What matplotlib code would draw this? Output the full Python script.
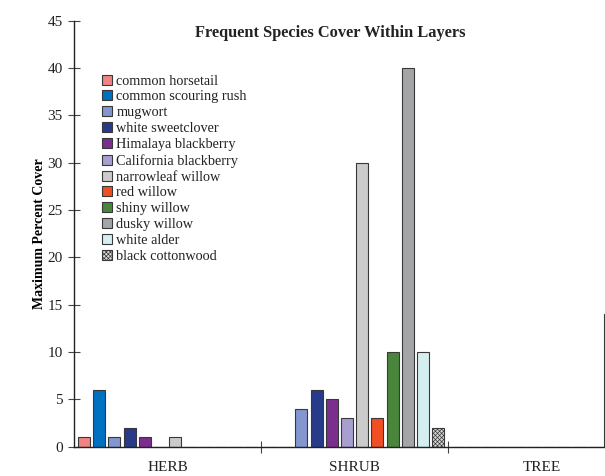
import matplotlib
matplotlib.use("Agg")
import matplotlib.pyplot as plt
import numpy as np

layers = ["HERB", "SHRUB", "TREE"]
species = ["common horsetail", "common scouring rush", "mugwort", "white sweetclover",
           "Himalaya blackberry", "California blackberry", "narrowleaf willow", "red willow",
           "shiny willow", "dusky willow", "white alder", "black cottonwood"]
# values per species: [HERB, SHRUB, TREE]
common_horsetail = [1, 0, 0]
common_scouring_rush = [6, 0, 0]
mugwort = [1, 4, 0]
white_sweetclover = [2, 6, 0]
himalaya_blackberry = [1, 5, 0]
california_blackberry = [0, 3, 0]
narrowleaf_willow = [1, 30, 0]
red_willow = [0, 3, 0]
shiny_willow = [0, 10, 0]
dusky_willow = [0, 40, 0]
white_alder = [0, 10, 14]
black_cottonwood = [0, 2, 0]
values = [common_horsetail, common_scouring_rush, mugwort, white_sweetclover,
          himalaya_blackberry, california_blackberry, narrowleaf_willow, red_willow,
          shiny_willow, dusky_willow, white_alder, black_cottonwood]
colors = ["#F08482", "#0070C0", "#8396D0", "#283A8A", "#7A2E8E", "#A89ED0",
          "#CBCBCB", "#F04E23", "#4A853C", "#A3A5A7", "#D5EEF0", "#D6D6D6"]
yticks = [0, 5, 10, 15, 20, 25, 30, 35, 40, 45]

plt.rcParams['font.family'] = ['Liberation Serif', 'DejaVu Serif']
plt.rcParams['hatch.color'] = '#9a9a9a'
plt.rcParams['hatch.linewidth'] = 0.5

fig = plt.figure(figsize=(6.05, 4.76), dpi=100)
ax = fig.add_axes([74/605, (476-446.7)/476, 561/605, 426/476])

n = len(species)
pitch = 15.2/187
width = 12/187
x = np.arange(len(layers))
for i, (sp, vals, c) in enumerate(zip(species, values, colors)):
    pos = x - pitch*(n-1)/2 + i*pitch
    hatch = 'xxxxxxxx' if sp == "black cottonwood" else None
    ax.bar(pos, vals, width=width, color=c, edgecolor='#383838', linewidth=0.8,
           label=sp, hatch=hatch)

ax.set_xlim(-0.5, 2.5)
ax.set_ylim(0, 45)
ax.set_yticks(yticks)
ax.set_yticklabels([str(v) for v in yticks], fontsize=11, color='#222222')
ax.set_xticks(x)
ax.set_xticklabels(layers, fontsize=11, color='#222222')
ax.set_xticks([0.5, 1.5, 2.5], minor=True)
ax.tick_params(axis='x', which='major', length=0, pad=10)
ax.tick_params(axis='x', which='minor', direction='inout', length=8, width=0.8, color='#444444')
ax.tick_params(axis='y', direction='inout', length=8, width=0.8, color='#444444', pad=4)
for s in ['top', 'right']:
    ax.spines[s].set_visible(False)
for s in ['left', 'bottom']:
    ax.spines[s].set_color('#222222')
    ax.spines[s].set_linewidth(1.0)

ax.set_ylabel("Maximum Percent Cover", fontsize=10, fontweight='bold', labelpad=1.5)
fig.text(330/605, 1 - 33/476, "Frequent Species Cover Within Layers", fontsize=11.8,
         fontweight='bold', ha='center', va='center', color='#222222')

leg = ax.legend(loc='upper left', bbox_to_anchor=((102-74)/561, (446.7-74.5)/426),
                frameon=False, fontsize=10.3, handlelength=0.7, handleheight=0.7,
                handletextpad=0.3, labelspacing=0.2, borderaxespad=0, borderpad=0)
for t in leg.get_texts():
    t.set_color('#222222')

fig.savefig("out.png", dpi=100)
